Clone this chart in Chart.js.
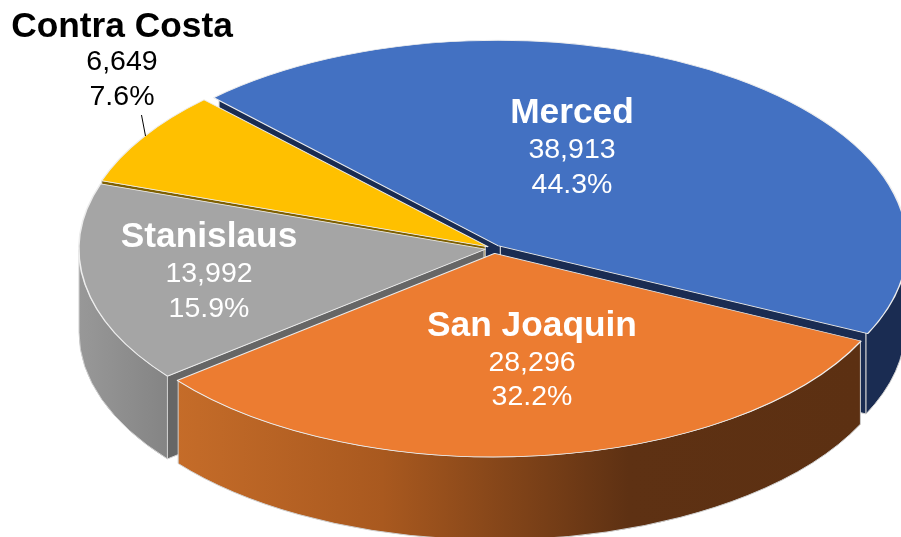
<!DOCTYPE html>
<html>
<head>
<meta charset="utf-8">
<style>html,body{margin:0;padding:0;background:#fff}canvas{display:block}</style>
<script src="https://cdn.jsdelivr.net/npm/chart.js@4"></script>
</head>
<body>
<canvas id="c" width="901" height="537" style="width:901px;height:537px"></canvas>
<script>
const categories = ["Merced", "San Joaquin", "Stanislaus", "Contra Costa"];
const values = [38913, 28296, 13992, 6649];
const valueLabels = ["38,913", "28,296", "13,992", "6,649"];
const percentLabels = ["44.3%", "32.2%", "15.9%", "7.6%"];
const topColors = ["#4371C2", "#EC7C31", "#A5A5A5", "#FFC000"];

// Layout and style only
const offsets = [18, 25, 21, 16];
const drawOrder = [0, 3, 2, 1];
const labelCenters = [[572, 113, 150, 185], [532, 326, 363, 397], [209, 237, 274, 309], [122, 27, 62, 97]];
const labelColors = ["#fff", "#fff", "#fff", "#000"];
const radialColors = ["#1A2C52", "#5C3012", "#666666", "#7F6000"];
const C = { x: 493.5, y: 248.5 }, RX = 405, RY = 203, DEPTH = 83;

function wallFill(ctx, i) {
  if (i === 1) {
    const g = ctx.createLinearGradient(177, 0, 861, 0);
    g.addColorStop(0, "#C56C29"); g.addColorStop(0.3, "#A9591F");
    g.addColorStop(0.66, "#5E3113"); g.addColorStop(1, "#5C3012");
    return g;
  }
  if (i === 2) {
    const g = ctx.createLinearGradient(79, 0, 168, 0);
    g.addColorStop(0, "#989898"); g.addColorStop(1, "#848484");
    return g;
  }
  return radialColors[i];
}

function drawSlice(chart, i) {
  const ctx = chart.ctx;
  const el = chart.getDatasetMeta(0).data[i];
  const p = el.getProps(["x", "y", "startAngle", "endAngle", "outerRadius"], true);
  const sx = RX / p.outerRadius, sy = RY / p.outerRadius;
  const a0 = p.startAngle, a1 = p.endAngle, mid = (a0 + a1) / 2;
  const off = offsets[i] / 4;
  const fix = 1 - Math.sin(Math.min(Math.PI, a1 - a0));
  const disp = off + off * fix;
  const cx = C.x + Math.cos(mid) * disp * sx;
  const cy = C.y + Math.sin(mid) * disp * sy;

  // Radial cut faces, only those turned toward the viewer
  ctx.save();
  ctx.fillStyle = radialColors[i];
  ctx.strokeStyle = "#D8D8D8";
  ctx.lineWidth = 1;
  [[a0, -Math.cos(a0)], [a1, Math.cos(a1)]].forEach(([a, facing]) => {
    if (facing <= 0) return;
    const ex = cx + RX * Math.cos(a), ey = cy + RY * Math.sin(a);
    ctx.beginPath();
    ctx.moveTo(cx, cy); ctx.lineTo(ex, ey);
    ctx.lineTo(ex, ey + DEPTH); ctx.lineTo(cx, cy + DEPTH);
    ctx.closePath(); ctx.fill(); ctx.stroke();
  });
  // Outer curved wall: only the part facing the viewer
  for (let k = 0; k < 3; k++) {
    const s = Math.max(a0, 2 * Math.PI * (k - 1)), e = Math.min(a1, 2 * Math.PI * (k - 1) + Math.PI);
    if (e <= s) continue;
    ctx.beginPath();
    ctx.ellipse(cx, cy, RX, RY, 0, s, e);
    ctx.ellipse(cx, cy + DEPTH, RX, RY, 0, e, s, true);
    ctx.closePath();
    ctx.fillStyle = wallFill(ctx, i);
    ctx.fill();
    ctx.strokeStyle = "#CFCFCF";
    ctx.stroke();
  }
  ctx.restore();

  // Top face, drawn by the library's own arc element
  ctx.save();
  ctx.translate(C.x, C.y);
  ctx.scale(sx, sy);
  ctx.translate(-p.x, -p.y);
  el.draw(ctx);
  ctx.restore();
}

const pie3d = {
  id: "pie3d",
  beforeDatasetDraw(chart) {
    drawOrder.forEach(i => drawSlice(chart, i));
    return false;
  },
  afterDraw(chart) {
    const ctx = chart.ctx;
    ctx.save();
    ctx.strokeStyle = "#000";
    ctx.lineWidth = 1;
    ctx.beginPath();
    ctx.moveTo(141.5, 115);
    ctx.lineTo(145.5, 136);
    ctx.stroke();
    ctx.textAlign = "center";
    ctx.textBaseline = "middle";
    categories.forEach((name, i) => {
      const [x, y0, y1, y2] = labelCenters[i];
      ctx.fillStyle = labelColors[i];
      ctx.font = 'bold 35.3px "Liberation Sans", Arial, sans-serif';
      ctx.fillText(name, x, y0);
      ctx.font = '28.5px "Liberation Sans", Arial, sans-serif';
      ctx.fillText(valueLabels[i], x, y1);
      ctx.fillText(percentLabels[i], x, y2);
    });
    ctx.restore();
  }
};

new Chart(document.getElementById("c"), {
  type: "pie",
  data: {
    labels: categories,
    datasets: [{
      data: values,
      backgroundColor: topColors,
      borderColor: "#EDEDED",
      borderWidth: 1,
      offset: offsets
    }]
  },
  options: {
    responsive: false,
    animation: false,
    rotation: 316,
    layout: { padding: 0 },
    plugins: { legend: { display: false }, tooltip: { enabled: false } }
  },
  plugins: [pie3d]
});
</script>
</body>
</html>
